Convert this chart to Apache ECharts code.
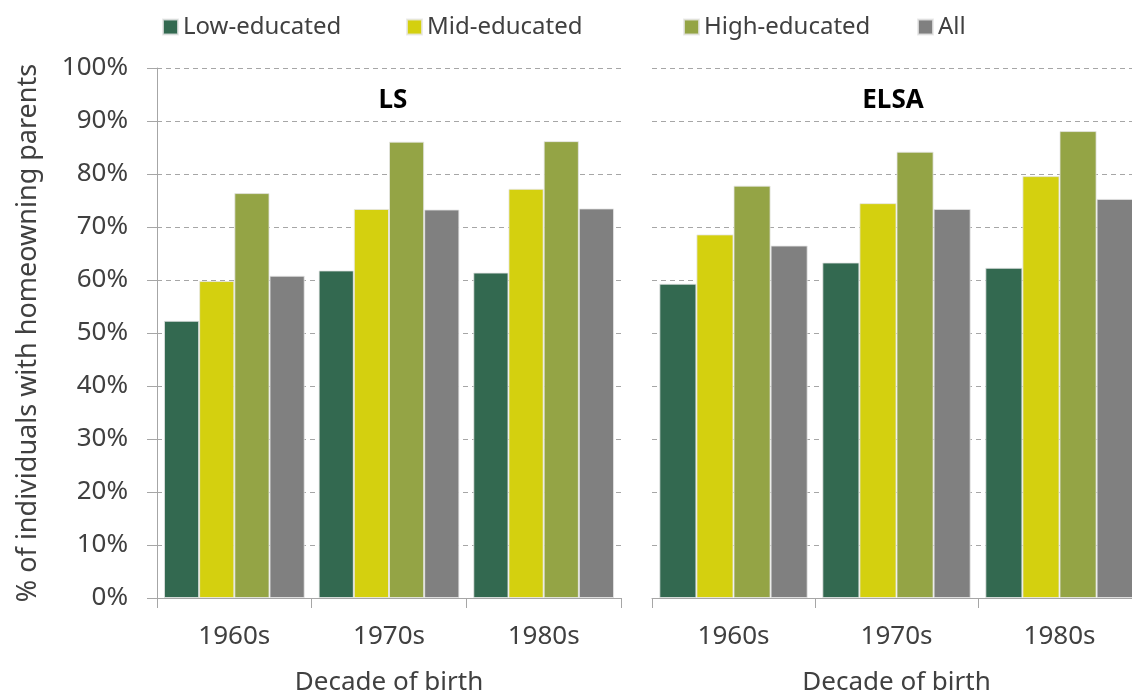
<!DOCTYPE html>
<html>
<head>
<meta charset="utf-8">
<script src="https://cdn.jsdelivr.net/npm/echarts@6/dist/echarts.min.js"></script>
<style>
  html, body { margin: 0; padding: 0; background: #fff; }
  #chart { width: 1132px; height: 693px; }
</style>
</head>
<body>
<div id="chart"></div>
<script>
// categories and groups
var decades = ['1960s', '1970s', '1980s']
var groups = ['Low-educated', 'Mid-educated', 'High-educated', 'All']
var colors = ['#336950', '#d4d00f', '#94a445', '#808080']

// % with homeowning parents
var lsLow = [52.3, 61.8, 61.4]
var lsMid = [59.8, 73.4, 77.2]
var lsHigh = [76.4, 86.1, 86.2]
var lsAll = [60.8, 73.3, 73.5]

var elsaLow = [59.3, 63.3, 62.3]
var elsaMid = [68.6, 74.5, 79.6]
var elsaHigh = [77.8, 84.2, 88.1]
var elsaAll = [66.5, 73.4, 75.3]

var yTicks = [0, 10, 20, 30, 40, 50, 60, 70, 80, 90, 100]

var lsData = [lsLow, lsMid, lsHigh, lsAll]
var elsaData = [elsaLow, elsaMid, elsaHigh, elsaAll]

var font = 'Noto Sans'
var textColor = '#404040'
var axisGray = '#a6a6a6'

var chart = echarts.init(document.getElementById('chart'))

function xAxisFor(idx) {
  return {
    type: 'category',
    gridIndex: idx,
    data: decades,
    name: 'Decade of birth',
    nameLocation: 'middle',
    nameGap: 72,
    nameTextStyle: { fontFamily: font, fontSize: 26, color: textColor },
    axisLine: { lineStyle: { color: axisGray, width: 1 } },
    axisTick: { show: true, length: 10, lineStyle: { color: axisGray } },
    axisLabel: { fontFamily: font, fontSize: 26, color: textColor, margin: 26 }
  }
}

function yAxisFor(idx) {
  return {
    type: 'value',
    gridIndex: idx,
    min: yTicks[0],
    max: yTicks[yTicks.length - 1],
    interval: 10,
    name: idx === 0 ? '% of individuals with homeowning parents' : '',
    nameLocation: 'middle',
    nameRotate: 90,
    nameGap: 115,
    nameTextStyle: { fontFamily: font, fontSize: 27, color: textColor },
    axisLine: { show: idx === 0, lineStyle: { color: axisGray, width: 1 } },
    axisTick: { show: idx === 0, length: 10, lineStyle: { color: axisGray } },
    axisLabel: {
      show: idx === 0,
      fontFamily: font, fontSize: 26, color: textColor, margin: 29,
      formatter: '{value}%'
    },
    splitLine: { show: true, lineStyle: { color: '#a6a6a6', type: [5, 4], width: 1 } }
  }
}

var series = []
;[lsData, elsaData].forEach(function (panel, p) {
  panel.forEach(function (vals, i) {
    series.push({
      name: groups[i],
      type: 'bar',
      xAxisIndex: p,
      yAxisIndex: p,
      data: vals,
      barGap: '0%',
      barCategoryGap: '9%',
      itemStyle: { color: colors[i], borderColor: 'rgba(230,230,230,0.8)', borderWidth: 1 }
    })
  })
})

// one legend per item so each can sit where the original has it
var legendLeft = [162, 406, 683, 917]
var legends = groups.map(function (g, i) {
  return {
    data: [g],
    left: legendLeft[i],
    top: 15,
    padding: 0,
    itemWidth: 15,
    itemHeight: 15,
    icon: 'rect',
    textStyle: { fontFamily: font, fontSize: 24, color: textColor }
  }
})

chart.setOption({
  backgroundColor: '#fff',
  animation: false,
  color: colors,
  title: [
    { text: 'LS', left: 388, top: 83, textAlign: 'center',
      textStyle: { fontFamily: font, fontSize: 26, fontWeight: 'bold', color: '#000' } },
    { text: 'ELSA', left: 888, top: 83, textAlign: 'center',
      textStyle: { fontFamily: font, fontSize: 26, fontWeight: 'bold', color: '#000' } }
  ],
  legend: legends,
  grid: [
    { left: 157, width: 464, top: 68, bottom: 95, outerBoundsMode: 'none' },
    { left: 652, width: 489, top: 68, bottom: 95, outerBoundsMode: 'none' }
  ],
  xAxis: [xAxisFor(0), xAxisFor(1)],
  yAxis: [yAxisFor(0), yAxisFor(1)],
  series: series
})
</script>
</body>
</html>
